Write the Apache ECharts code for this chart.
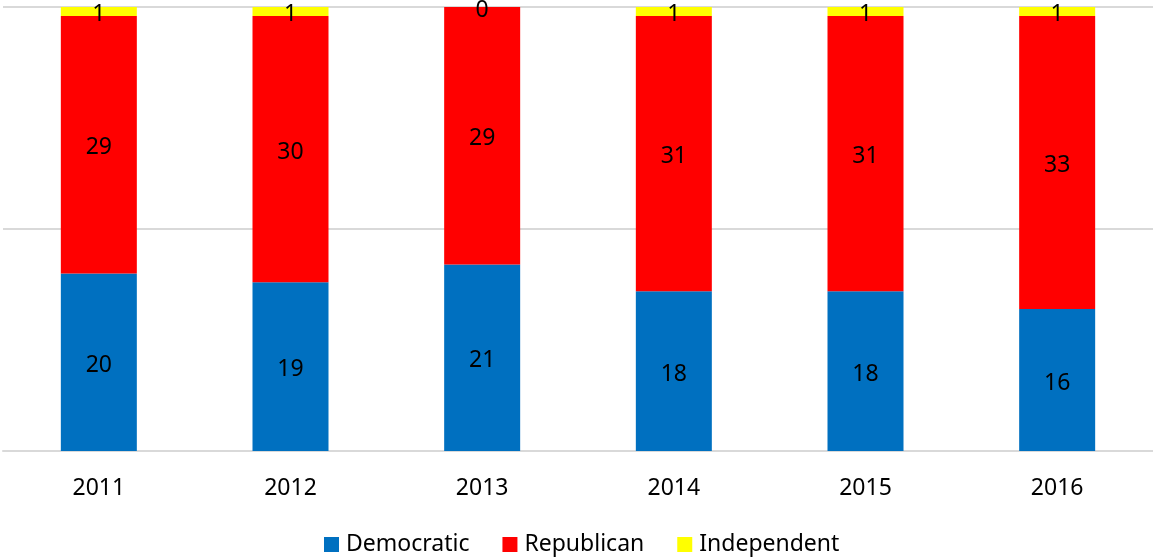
<!DOCTYPE html>
<html>
<head>
<meta charset="utf-8">
<script src="https://cdn.jsdelivr.net/npm/echarts@6/dist/echarts.min.js"></script>
<style>
  html, body { margin: 0; padding: 0; background: #fff; }
  #chart { width: 1153px; height: 558px; }
</style>
</head>
<body>
<div id="chart"></div>
<script>
// Seats by party, per year
const years = ['2011', '2012', '2013', '2014', '2015', '2016'];
const democratic = [20, 19, 21, 18, 18, 16];
const republican = [29, 30, 29, 31, 31, 33];
const independent = [1, 1, 0, 1, 1, 1];

const FONT = '"Noto Sans", sans-serif';
const labelStyle = {
  show: true,
  position: 'inside',
  offset: [0, 3],
  color: '#000',
  fontFamily: FONT,
  fontSize: 23
};

function series(name, data, color) {
  return {
    name: name,
    type: 'bar',
    stack: 'total',
    data: data,
    barWidth: 76,
    itemStyle: { color: color },
    label: labelStyle,
    emphasis: { disabled: true }
  };
}

const chart = echarts.init(document.getElementById('chart'), null, { renderer: 'canvas' });
chart.setOption({
  animation: false,
  backgroundColor: '#fff',
  grid: { left: 3, top: 7, width: 1152, bottom: 107, containLabel: false },
  xAxis: {
    type: 'category',
    data: years,
    axisLine: { show: true, lineStyle: { color: '#d9d9d9', width: 2 } },
    axisTick: { show: false },
    axisLabel: { color: '#000', fontFamily: FONT, fontSize: 23, margin: 26 }
  },
  yAxis: {
    type: 'value',
    min: 0,
    max: 50,
    interval: 25,
    axisLine: { show: false },
    axisTick: { show: false },
    axisLabel: { show: false },
    splitLine: { lineStyle: { color: '#d9d9d9', width: 2 } }
  },
  legend: {
    top: 528,
    left: 319,
    itemWidth: 15,
    itemHeight: 15,
    itemGap: 33,
    icon: 'rect',
    textStyle: { color: '#000', fontFamily: FONT, fontSize: 23, padding: [0, 0, 0, 2] },
    data: ['Democratic', 'Republican', 'Independent']
  },
  series: [
    series('Democratic', democratic, '#0070C0'),
    series('Republican', republican, '#FF0000'),
    series('Independent', independent, '#FFFF00')
  ]
});
</script>
</body>
</html>
